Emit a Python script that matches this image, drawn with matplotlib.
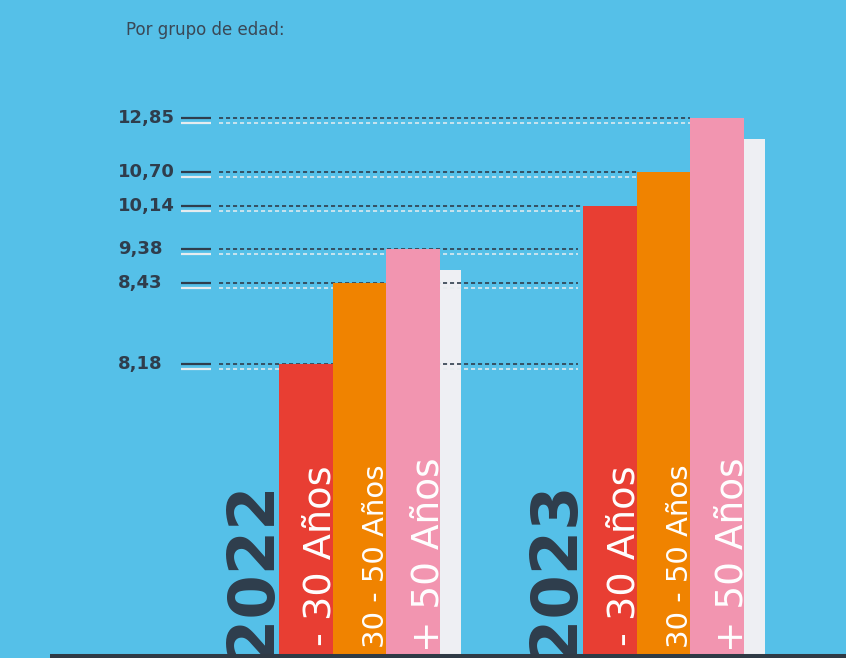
import numpy as np
import matplotlib
matplotlib.use("Agg")
import matplotlib.pyplot as plt
import matplotlib.transforms as mtransforms

# data
years = ["2022", "2023"]
groups = ["- 30 Años", "30 - 50 Años", "+ 50 Años"]
vals_2022 = [8.18, 8.43, 9.38]
vals_2023 = [10.14, 10.70, 12.85]
shadow_vals = [8.78, 12.01]   # pale bar behind each group (no label)
tick_vals = [12.85, 10.70, 10.14, 9.38, 8.43, 8.18]
tick_labels = ["12,85", "10,70", "10,14", "9,38", "8,43", "8,18"]

# colours
bg = "#55c0e8"
dark = "#2f3d4c"
bar_cols = ["#e83e33", "#f08300", "#f295b0"]
shadow_col = "#eeeff3"

# the infographic uses a stretched (non linear) value axis:
# value -> height in px above the base line
knot_v = [-1.0, 0, 8.18, 8.43, 9.38, 10.14, 10.70, 12.85, 20.0]
knot_h = [-35.5, 0, 290, 371, 405, 448, 482, 536, 715]

def fwd(v):
    return np.interp(v, knot_v, knot_h)

def inv(h):
    return np.interp(h, knot_h, knot_v)

W, H = 846, 658
fig = plt.figure(figsize=(W / 100, H / 100), dpi=100)
fig.patch.set_facecolor(bg)
ax = fig.add_axes([0, 0, 1, 1])
ax.set_facecolor(bg)
ax.set_yscale("function", functions=(fwd, inv))
ax.set_xlim(0, W)
ax.set_ylim(inv(-4), inv(654))
ax.axis("off")

# bars
group_left = [279, 583]
bw = 53.7
for gi, vals in enumerate([vals_2022, vals_2023]):
    x0 = group_left[gi]
    ax.bar(x0 + 3 * bw, shadow_vals[gi], width=21, align="edge",
           color=shadow_col, zorder=1)
    for bi, v in enumerate(vals):
        ax.bar(x0 + bi * bw, v, width=bw, align="edge",
               color=bar_cols[bi], zorder=3)

# guide lines + tick labels
below = mtransforms.offset_copy(ax.transData, fig=fig, y=-5, units="dots")
line_end = []
for v in tick_vals:
    if v in vals_2023:
        line_end.append(group_left[1] + vals_2023.index(v) * bw)
    else:
        line_end.append(group_left[1] - 5)

for v, lab, xe in zip(tick_vals, tick_labels, line_end):
    ax.text(118, v, lab, ha="left", va="center", fontsize=13,
            fontweight="bold", color=dark, zorder=5)
    ax.plot([181, 211], [v, v], color=dark, lw=1.6, solid_capstyle="butt", zorder=5)
    ax.plot([181, 211], [v, v], color="#e6ecef", lw=1.6, solid_capstyle="butt",
            transform=below, zorder=5)
    ax.plot([219, xe], [v, v], color=dark, lw=1.4, dashes=(2.1, 1.5),
            alpha=0.85, zorder=2)
    ax.plot([219, xe], [v, v], color="#e6ecef", lw=1.4, dashes=(2.1, 1.5),
            alpha=0.8, transform=below, zorder=2)

# rotated labels
pix = ("data", "figure pixels")
year_x = [270, 573]
for gi, yr in enumerate(years):
    x0 = group_left[gi]
    ax.annotate(yr, (year_x[gi], H - 480), xycoords=pix, rotation=90,
                rotation_mode="anchor", ha="right", va="baseline",
                fontsize=46, fontweight="bold", color=dark, zorder=4)
    sizes = [27.5, 21, 27]
    tops = [465, 465, 457]
    for bi, g in enumerate(groups):
        ax.annotate(g, (x0 + (bi + 1) * bw - 2, H - tops[bi]), xycoords=pix,
                    rotation=90, rotation_mode="anchor", ha="right",
                    va="baseline", fontsize=sizes[bi], color="white", zorder=4)

# base line
base = mtransforms.offset_copy(ax.transData, fig=fig, y=-2, units="dots")
ax.plot([50, W], [0, 0], color="#2f3a45", lw=2.9, solid_capstyle="butt",
        transform=base, zorder=10)

fig.text(126 / W, 1 - 35 / H, "Por grupo de edad:", ha="left", va="baseline",
         fontsize=12, color="#3a4856")

fig.savefig("out.png", dpi=100, facecolor=bg)
